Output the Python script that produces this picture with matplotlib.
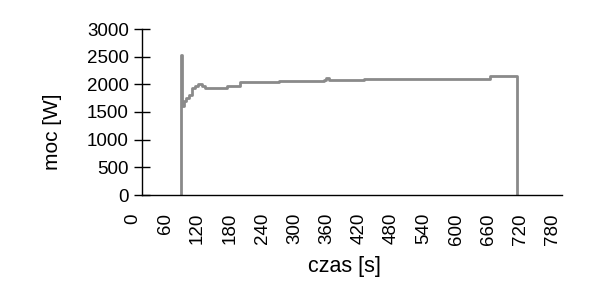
import numpy as np
import matplotlib
matplotlib.use('Agg')
import matplotlib.pyplot as plt
from matplotlib.transforms import ScaledTranslation

plt.rcParams['font.family'] = ['Liberation Sans', 'DejaVu Sans']

# czas [s] i moc [W] (schodkowo)
czas = [72, 72.5, 74, 78, 82, 88, 92, 98, 104, 112, 117, 157, 182, 225, 255, 338, 342, 348, 412, 647, 695, 695.5]
moc = [0, 2530, 1600, 1700, 1750, 1800, 1930, 1975, 2000, 1975, 1930, 1970, 2040, 2050, 2060, 2070, 2120, 2070, 2090, 2150, 2150, 0]

xticks = list(range(0, 781, 60))
yticks = list(range(0, 3001, 500))

fig = plt.figure(figsize=(6.06, 2.97), dpi=100)
ax = fig.add_axes([142/606, 102/297, 420/606, 166/297])

ax.plot(czas, moc, drawstyle='steps-post', color='#8a8a8a', lw=2)

ax.set_xlim(0, 780)
ax.set_ylim(0, 3000)
ax.set_xticks(xticks)
ax.set_yticks(yticks)
ax.set_xticklabels([str(t) for t in xticks], rotation=90)

ax.spines['top'].set_visible(False)
ax.spines['right'].set_visible(False)
ax.spines['left'].set_linewidth(1)
ax.spines['bottom'].set_linewidth(1)

ax.tick_params(axis='y', direction='inout', length=11, width=1, pad=4, labelsize=13.5)
ax.tick_params(axis='x', length=0, pad=13, labelsize=13.5)

# etykiety osi x przesuniete lekko w lewo
off = ScaledTranslation(-9/100, 0, fig.dpi_scale_trans)
for lab in ax.get_xticklabels():
    lab.set_transform(lab.get_transform() + off)

ax.set_ylabel('moc [W]', fontsize=15)
ax.yaxis.set_label_coords(-0.19, 0.38)
ax.set_xlabel('czas [s]', fontsize=15.5)
ax.xaxis.set_label_coords(0.483, -0.37)

fig.savefig('out.png', dpi=100)
